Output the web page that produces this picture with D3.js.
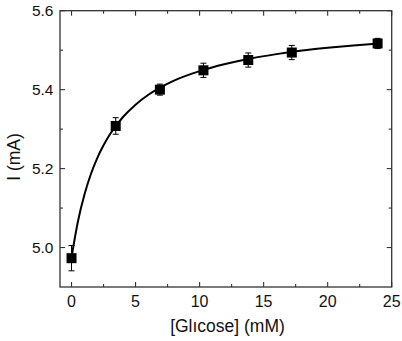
<!DOCTYPE html>
<html><head><meta charset="utf-8">
<script src="https://cdn.jsdelivr.net/npm/d3@7"></script>
<style>body{margin:0;background:#fff}svg{display:block}text{font-family:"Liberation Sans",Arial,sans-serif;fill:#111}</style>
</head><body><svg id="c" width="402" height="341"></svg>
<script>
const glucose = [0, 3.45, 6.9, 10.3, 13.8, 17.2, 23.9];
const current = [4.973, 5.308, 5.400, 5.449, 5.475, 5.494, 5.517];
const errors  = [0.032, 0.021, 0.014, 0.018, 0.018, 0.018, 0.013];
const fitX = [0,0.5,1,1.5,2,2.5,3,4,5,6,8,10,12,14,16,18,20,22,24];
const fitY = [4.975,5.066,5.133,5.185,5.226,5.259,5.287,5.330,5.362,5.387,5.423,5.447,5.465,5.479,5.490,5.499,5.506,5.512,5.517];
const xTicks = [0,5,10,15,20,25];
const yTicks = [5.0,5.2,5.4,5.6];
const xMinor = [2.5,7.5,12.5,17.5,22.5];
const yMinor = [5.1,5.3,5.5];

const L=60,R=391.7,T=10.7,B=287;
const svg=d3.select("#c");
const x=d3.scaleLinear().domain([-0.9,25]).range([L,R]);
const y=d3.scaleLinear().domain([4.9,5.6]).range([B,T]);
const ax="#333";

const g=svg.append("g");
g.append("rect").attr("x",L).attr("y",T).attr("width",R-L).attr("height",B-T)
 .attr("fill","none").attr("stroke",ax).attr("stroke-width",1.3);

function ticks(vals,len,labels){
  vals.forEach(v=>{
    const px=x(v);
    g.append("line").attr("x1",px).attr("x2",px).attr("y1",B).attr("y2",B-len).attr("stroke",ax).attr("stroke-width",1.1);
    g.append("line").attr("x1",px).attr("x2",px).attr("y1",T).attr("y2",T+len).attr("stroke",ax).attr("stroke-width",1.1);
    if(labels) g.append("text").attr("x",px).attr("y",306.5).attr("text-anchor","middle").attr("font-size",16).text(v);
  });
}
function yticks(vals,len,labels){
  vals.forEach(v=>{
    const py=y(v);
    g.append("line").attr("y1",py).attr("y2",py).attr("x1",L).attr("x2",L+len).attr("stroke",ax).attr("stroke-width",1.1);
    g.append("line").attr("y1",py).attr("y2",py).attr("x1",R).attr("x2",R-len).attr("stroke",ax).attr("stroke-width",1.1);
    if(labels) g.append("text").attr("x",53.5).attr("y",py+5.3).attr("text-anchor","end").attr("font-size",15.5).text(d3.format(".1f")(v));
  });
}
ticks(xTicks,5,true); ticks(xMinor,3,false);
yticks(yTicks,5,true); yticks(yMinor,3,false);

g.append("text").attr("x",227.5).attr("y",332).attr("text-anchor","middle").attr("font-size",17.5).text("[Glıcose] (mM)");
g.append("text").attr("transform","translate(19.5,157) rotate(-90)").attr("text-anchor","middle").attr("font-size",17.5).text("I (mA)");

const fit=fitX.map((d,i)=>[d,fitY[i]]);
g.append("path").datum(fit).attr("fill","none").attr("stroke","#000").attr("stroke-width",2)
 .attr("d",d3.line().x(d=>x(d[0])).y(d=>y(d[1])).curve(d3.curveMonotoneX));

const pts=glucose.map((d,i)=>({x:d,y:current[i],e:errors[i]}));
const eb=g.selectAll(".eb").data(pts).enter().append("g");
eb.append("line").attr("x1",d=>x(d.x)).attr("x2",d=>x(d.x)).attr("y1",d=>y(d.y-d.e)).attr("y2",d=>y(d.y+d.e)).attr("stroke","#000").attr("stroke-width",1);
eb.append("line").attr("x1",d=>x(d.x)-3).attr("x2",d=>x(d.x)+3).attr("y1",d=>y(d.y-d.e)).attr("y2",d=>y(d.y-d.e)).attr("stroke","#000").attr("stroke-width",1);
eb.append("line").attr("x1",d=>x(d.x)-3).attr("x2",d=>x(d.x)+3).attr("y1",d=>y(d.y+d.e)).attr("y2",d=>y(d.y+d.e)).attr("stroke","#000").attr("stroke-width",1);
eb.append("rect").attr("x",d=>x(d.x)-5).attr("y",d=>y(d.y)-5).attr("width",10).attr("height",10).attr("fill","#000");
</script></body></html>
